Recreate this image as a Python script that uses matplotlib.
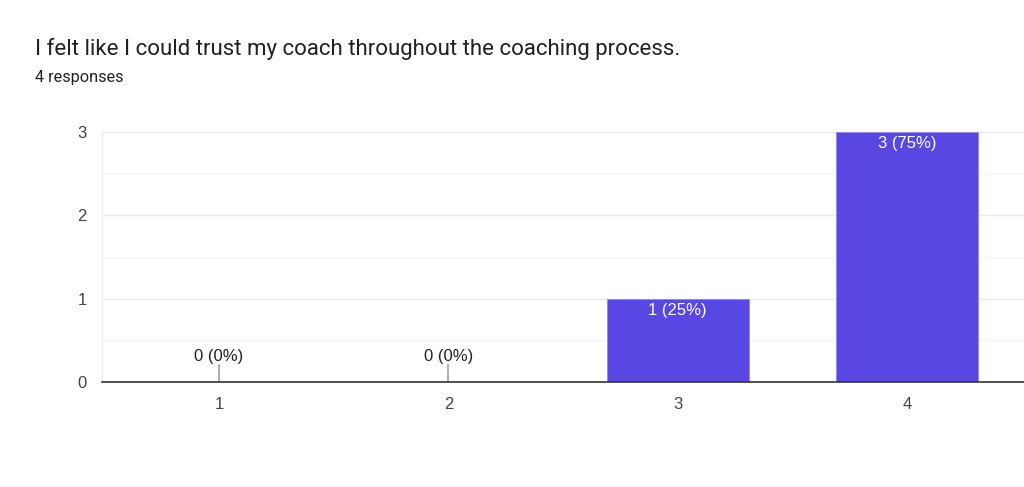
import numpy as np
import matplotlib
matplotlib.use("Agg")
from matplotlib import pyplot as plt

# chart data
title = "I felt like I could trust my coach throughout the coaching process."
subtitle = "4 responses"
categories = ["1", "2", "3", "4"]
counts = [0, 0, 1, 3]
total = 4

bar_color = "#5847E2"
text_color = "#202124"
tick_color = "#444444"

fig = plt.figure(figsize=(10.24, 4.87), dpi=100)
ax = fig.add_axes([102 / 1024, 105 / 487, 922 / 1024, 250 / 487])

x = np.arange(1, len(categories) + 1)
ax.bar(x, counts, width=0.62, color=bar_color, edgecolor="#8f85ee", linewidth=0.6, zorder=3)

ax.set_xlim(0.49, 4.51)
ax.set_ylim(0, 3)
ax.set_yticks([0, 1, 2, 3])
ax.set_yticks([0.5, 1.5, 2.5], minor=True)
ax.set_xticks(x)
ax.set_xticklabels(categories)
ax.grid(axis="y", which="major", color="#ebebeb", lw=1, zorder=0)
ax.grid(axis="y", which="minor", color="#f4f4f4", lw=1, zorder=0)
ax.tick_params(axis="both", which="both", length=0, labelsize=12, colors=tick_color,
               labelfontfamily="Liberation Sans")
ax.tick_params(axis="y", pad=11)
ax.tick_params(axis="x", pad=11)

for s in ["top", "right"]:
    ax.spines[s].set_visible(False)
ax.spines["left"].set_color("#ebebeb")
ax.spines["bottom"].set_color("#333333")
ax.spines["bottom"].set_linewidth(1.2)
ax.spines["bottom"].set_zorder(4)

for xi, c in zip(x, counts):
    lab = "{} ({:.0f}%)".format(c, 100 * c / total)
    if c == 0:
        ax.plot([xi, xi], [0, 0.2], color="#9e9e9e", lw=1.2, zorder=4)
        ax.text(xi, 0.22, lab, ha="center", va="bottom", fontsize=12,
                color=text_color, family="Liberation Sans")
    else:
        ax.text(xi, c - 0.05, lab, ha="center", va="top", fontsize=12,
                color="white", family="Liberation Sans", zorder=5)

fig.text(35 / 1024, 1 - 49 / 487, title, ha="left", va="center", fontsize=16,
         color=text_color, family="Roboto")
fig.text(35 / 1024, 1 - 77 / 487, subtitle, ha="left", va="center", fontsize=11.7,
         color=text_color, family="Roboto")

fig.savefig("out.png", dpi=100)
